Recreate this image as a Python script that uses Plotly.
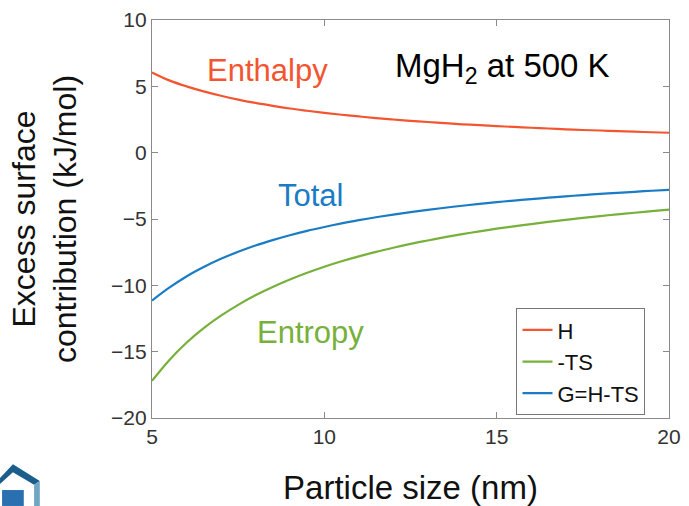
import plotly.graph_objects as go

size_nm = [5, 5.5, 6, 6.5, 7, 7.5, 8, 8.5, 9, 9.5, 10, 10.5, 11, 11.5, 12, 12.5, 13, 13.5,
           14, 14.5, 15, 15.5, 16, 16.5, 17, 17.5, 18, 18.5, 19, 19.5, 20]
enthalpy_H = [6.05, 5.45, 5.0, 4.62, 4.29, 4.0, 3.75, 3.53, 3.33, 3.16, 3.0, 2.86, 2.73, 2.61,
              2.5, 2.4, 2.31, 2.22, 2.14, 2.07, 2.0, 1.94, 1.88, 1.82, 1.76, 1.71, 1.67, 1.62,
              1.58, 1.54, 1.5]
entropy_TS = [-17.2, -15.64, -14.33, -13.23, -12.29, -11.47, -10.75, -10.12, -9.56, -9.05, -8.6,
              -8.19, -7.82, -7.48, -7.17, -6.88, -6.62, -6.37, -6.14, -5.93, -5.73, -5.55, -5.38,
              -5.21, -5.06, -4.91, -4.78, -4.65, -4.53, -4.41, -4.3]
total_G = [-11.15, -10.18, -9.33, -8.62, -8.0, -7.47, -7.0, -6.59, -6.22, -5.89, -5.6, -5.33,
           -5.09, -4.87, -4.67, -4.48, -4.31, -4.15, -4.0, -3.86, -3.73, -3.61, -3.5, -3.39,
           -3.29, -3.2, -3.11, -3.03, -2.95, -2.87, -2.8]

x_ticks = [5, 10, 15, 20]
y_ticks = [-20, -15, -10, -5, 0, 5, 10]

RED = "#F25530"
GREEN = "#77B03A"
BLUE = "#1A7CC4"
FONT = "Liberation Sans, Arial, sans-serif"

fig = go.Figure()
fig.add_trace(go.Scatter(x=size_nm, y=enthalpy_H, mode="lines", name="H",
                         line=dict(color=RED, width=2.2, shape="spline")))
fig.add_trace(go.Scatter(x=size_nm, y=entropy_TS, mode="lines", name="-TS",
                         line=dict(color=GREEN, width=2.2, shape="spline")))
fig.add_trace(go.Scatter(x=size_nm, y=total_G, mode="lines", name="G=H-TS",
                         line=dict(color=BLUE, width=2.2, shape="spline")))

axis_common = dict(showline=True, linecolor="#8a8a8a", linewidth=1.2, mirror="ticks",
                   ticks="inside", ticklen=6, tickcolor="#8a8a8a", showgrid=False,
                   zeroline=False, automargin=False,
                   tickfont=dict(family=FONT, size=21, color="#333333"))

fig.update_xaxes(range=[5, 20], tickvals=x_ticks,
                 title=dict(text="Particle size (nm)", font=dict(family=FONT, size=33, color="#111111"),
                            standoff=30),
                 **axis_common)
fig.update_yaxes(range=[-20, 10], tickvals=y_ticks,
                 title=dict(text="Excess surface<br>contribution (kJ/mol)",
                            font=dict(family=FONT, size=32, color="#111111"), standoff=24),
                 **axis_common)

annotations = [
    dict(x=0.224, y=0.874, text="Enthalpy", color=RED, size=31),
    dict(x=0.306, y=0.560, text="Total", color=BLUE, size=31),
    dict(x=0.306, y=0.216, text="Entropy", color=GREEN, size=31),
    dict(x=0.677, y=0.879, text="MgH<sub>2</sub> at 500 K", color="#000000", size=33),
]
for a in annotations:
    fig.add_annotation(x=a["x"], y=a["y"], xref="paper", yref="paper", text=a["text"],
                       xanchor="center", yanchor="middle",
                       showarrow=False, font=dict(family=FONT, size=a["size"], color=a["color"]))

# partial logo in the lower-left corner
fig.add_shape(type="path", xref="paper", yref="paper",
              path="M -0.294,-0.151 L -0.269,-0.116 L -0.217,-0.158 L -0.228,-0.168 L -0.269,-0.136 L -0.294,-0.166 Z",
              fillcolor="#1B5E8C", line=dict(width=0), layer="above")
fig.add_shape(type="path", xref="paper", yref="paper",
              path="M -0.228,-0.168 L -0.217,-0.158 L -0.217,-0.221 L -0.228,-0.221 Z",
              fillcolor="#6FA6C2", line=dict(width=0), layer="above")
fig.add_shape(type="path", xref="paper", yref="paper",
              path="M -0.290,-0.181 L -0.248,-0.181 L -0.248,-0.221 L -0.290,-0.221 Z",
              fillcolor="#2A6FB0", line=dict(width=0), layer="above")

fig.update_layout(
    width=689, height=506,
    margin=dict(l=152, r=20, t=20, b=88, autoexpand=False),
    paper_bgcolor="white", plot_bgcolor="white",
    showlegend=True,
    legend=dict(x=0.705, y=0.276, xanchor="left", yanchor="top",
                bordercolor="#777777", borderwidth=1, bgcolor="white",
                font=dict(family=FONT, size=22, color="#111111"),
                tracegroupgap=0, itemwidth=30),
)

fig.write_html("out.html", config={"displayModeBar": False},
               post_script="document.body.style.margin='0';")
